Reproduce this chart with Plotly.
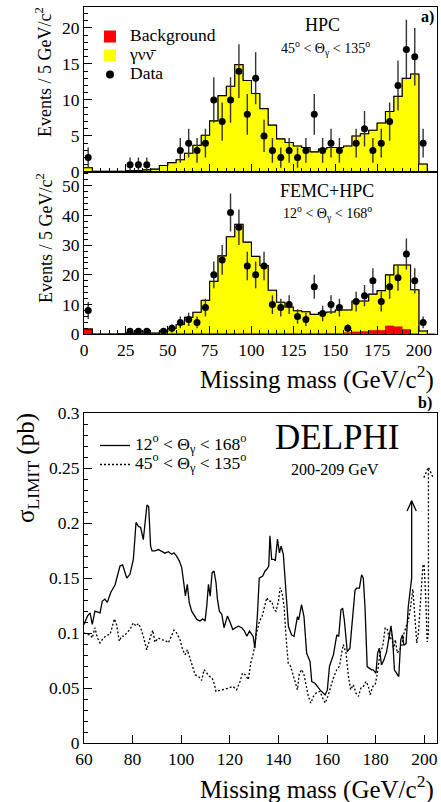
import numpy as np
import plotly.graph_objects as go

# ---------------- data ----------------
bin_edges = list(range(0, 215, 5))            # 0 .. 210 GeV/c^2, 5 GeV bins
bin_centers = [e + 2.5 for e in bin_edges[:-1]]

# Panel a, HPC (45 < theta < 135)
hpc_gvv = [0.6, 0.1, 0.1, 0.1, 0.1, 0.2, 0.2, 0.3, 0.4, 0.9,
           1.3, 1.7, 2.6, 3.7, 5.1, 7.1, 10.6, 11.9, 14.9, 12.7,
           10.9, 8.8, 6.5, 4.6, 4.1, 3.6, 3.4, 2.8, 3.2, 3.4,
           3.4, 3.6, 5.0, 5.3, 5.8, 6.8, 8.4, 10.5, 13.0, 13.6,
           1.1, 0.0]
hpc_bkg = [0.0] * 42
hpc_data = [2, 0, 0, 0, 0, 1, 1, 1, 0, 0,
            0, 3, 4, 3, 4, 10, 7, 10, 14, 8,
            13, 5, 3, 2, 3, 2, 3, 8, 3, 4,
            3, 0, 4, 6, 3, 4, 7, 12, 17, 16,
            4, 0]

# Panel a, FEMC+HPC (12 < theta < 168)
femc_gvv = [0.0, 0.1, 0.1, 0.1, 0.2, 0.4, 0.4, 0.4, 0.4, 0.9,
            1.7, 3.0, 5.4, 7.1, 11.1, 17.5, 26.1, 32.5, 36.7, 30.7,
            25.9, 22.8, 14.5, 10.5, 8.9, 7.6, 7.3, 6.4, 7.0, 7.2,
            7.9, 7.7, 10.4, 10.3, 12.2, 13.4, 17.2, 20.8, 21.7, 14.8,
            1.1, 0.0]
femc_bkg = [1.8, 0.0, 0.0, 0.0, 0.0, 0.0, 0.0, 0.0, 0.0, 0.1,
            0.3, 0.3, 0.3, 0.3, 0.3, 0.3, 0.3, 0.3, 0.3, 0.3,
            0.3, 0.3, 0.3, 0.3, 0.3, 0.3, 0.3, 0.3, 0.3, 0.3,
            0.3, 0.5, 0.8, 0.9, 1.3, 1.3, 2.8, 2.5, 1.6, 0.2,
            0.0, 0.0]
femc_data = [8, 0, 0, 0, 0, 1, 1, 1, 0, 1,
             2, 4, 5, 4, 9, 20, 25, 41, 36, 23,
             20, 23, 10, 9, 10, 6, 5, 16, 7, 10,
             9, 2, 11, 13, 18, 11, 16, 19, 27, 18,
             4, 0]

# Panel b, cross-section limits (pb) vs missing mass
lim12_mass = [60, 61.4, 62.5, 63.4, 64.5, 65.6, 66.6, 67.5, 68.6, 69.6, 71.0, 72.8, 73.7, 74.8,
              75.9, 76.9, 77.6, 78.9, 80.3, 80.7, 81.4, 82.4, 83.3, 84.4, 85.1, 85.9, 86.6,
              87.4, 88.0, 89.2, 90.6, 92.0, 93.3, 94.7, 96.1, 97.0, 98.1, 99.2, 100.2, 101.2,
              101.7, 102.5, 103.3, 104.3, 106.4, 107.7, 108.8, 109.8, 110.5, 111.2, 111.9,
              112.7, 113.5, 114.3, 114.9, 115.7, 116.7, 117.6, 118.4, 119.0, 120.1, 121.2,
              122.3, 123.5, 124.9, 126.0, 127.0, 128.1, 129.0, 129.6, 130.3, 131.3, 132.1,
              133.5, 134.5, 135.2, 136.0, 136.5, 137.2, 138.2, 138.7, 139.6, 140.4, 141.1,
              142.0, 142.7, 143.4, 144.1, 145.4, 146.4, 147.8, 148.3, 149.5, 150.5, 151.6,
              153.0, 153.7, 155.0, 157.1, 159.2, 160.1, 161.0, 162.6, 164.0, 164.8, 165.7,
              166.4, 167.1, 168.3, 169.4, 171.5, 172.2, 173.3, 174.2, 174.9, 175.6, 176.5,
              178.3, 179.0, 180.1, 180.8, 181.5, 182.4, 183.4, 184.5, 185.5, 186.3, 187.0,
              187.7, 188.6, 189.5, 190.3, 191.0, 191.6, 192.5, 193.4, 194.1, 194.8, 194.8]
lim12_pb = [0.108, 0.1155, 0.1185, 0.108, 0.120, 0.119, 0.1185, 0.129, 0.131, 0.128, 0.137,
            0.144, 0.152, 0.161, 0.162, 0.1535, 0.150, 0.1535, 0.167, 0.179, 0.2006, 0.197,
            0.196, 0.185, 0.1976, 0.2164, 0.215, 0.179, 0.1748, 0.1748, 0.176, 0.174, 0.1727,
            0.174, 0.1717, 0.173, 0.170, 0.1657, 0.1596, 0.143, 0.134, 0.1444, 0.1277, 0.120,
            0.1125, 0.111, 0.113, 0.111, 0.1246, 0.1444, 0.1337, 0.155, 0.1565, 0.146, 0.1307,
            0.120, 0.117, 0.105, 0.111, 0.1155, 0.110, 0.1033, 0.105, 0.1064, 0.105, 0.102,
            0.0973, 0.102, 0.099, 0.097, 0.0864, 0.115, 0.150, 0.152, 0.1565, 0.158, 0.161,
            0.1885, 0.167, 0.167, 0.1657, 0.1854, 0.173, 0.179, 0.1717, 0.152, 0.1337, 0.106,
            0.0985, 0.097, 0.115, 0.1121, 0.126, 0.115, 0.0818, 0.0742, 0.0561, 0.0545, 0.0485,
            0.044, 0.0485, 0.070, 0.0803, 0.0985, 0.097, 0.121, 0.1227, 0.112, 0.0833, 0.0864,
            0.139, 0.141, 0.141, 0.153, 0.150, 0.124, 0.0697, 0.0667, 0.0667, 0.0636, 0.082,
            0.0864, 0.0712, 0.0758, 0.0833, 0.0985, 0.1066, 0.094, 0.0667, 0.0636, 0.0606,
            0.094, 0.0985, 0.089, 0.0906, 0.124, 0.139, 0.150, 0.2204]

lim45_mass = [60, 61.4, 62.5, 63.4, 64.5, 65.5, 66.6, 68.0, 69.3, 70.7, 71.7, 72.5, 73.4, 74.5,
              75.5, 76.5, 77.6, 78.9, 80.3, 81.4, 82.4, 83.3, 84.4, 85.8, 87.2, 88.3, 89.2,
              90.6, 92.0, 93.3, 94.7, 96.1, 97.0, 98.1, 99.5, 100.6, 101.6, 102.5, 103.6,
              104.3, 105.7, 107.1, 108.4, 109.4, 110.5, 111.6, 112.7, 113.5, 114.3, 116.0,
              117.6, 119.4, 121.2, 122.8, 124.2, 125.2, 126.3, 127.6, 128.6, 129.7, 131.0,
              132.2, 133.3, 134.5, 135.2, 136.0, 137.2, 138.2, 139.0, 140.0, 140.7, 141.5,
              142.3, 143.1, 144.0, 145.0, 146.1, 147.0, 147.8, 148.6, 149.6, 150.5, 151.4,
              152.3, 153.3, 154.4, 155.7, 157.1, 158.2, 159.2, 160.3, 161.5, 162.6, 164.0,
              165.1, 166.0, 166.7, 167.8, 168.8, 169.7, 170.8, 171.9, 172.9, 173.9, 175.0,
              176.0, 177.0, 177.7, 178.8, 179.8, 180.7, 181.8, 182.9, 183.9, 184.8, 185.7,
              186.6, 187.3, 188.1, 188.9, 189.8, 190.7, 191.7, 192.5, 193.5, 194.4, 195.3,
              195.8, 196.4, 196.9, 197.6, 198.5, 199.4, 199.9, 200.5, 201.2, 201.7, 201.7]
lim45_pb = [0.1003, 0.0988, 0.0988, 0.0957, 0.105, 0.0957, 0.0912, 0.0957, 0.098, 0.0988,
            0.1064, 0.113, 0.108, 0.0927, 0.0973, 0.0973, 0.1003, 0.1033, 0.1094, 0.1064,
            0.1088, 0.105, 0.0973, 0.085, 0.0957, 0.1027, 0.0918, 0.0957, 0.094, 0.0936,
            0.0912, 0.098, 0.1027, 0.1003, 0.094, 0.085, 0.0805, 0.085, 0.0775, 0.073, 0.0623,
            0.0608, 0.0571, 0.0669, 0.0638, 0.0608, 0.0593, 0.0547, 0.0471, 0.048, 0.0492,
            0.0501, 0.0517, 0.0486, 0.0562, 0.0638, 0.0623, 0.0578, 0.073, 0.082, 0.1003,
            0.111, 0.1155, 0.126, 0.1322, 0.129, 0.129, 0.1216, 0.120, 0.129, 0.1413, 0.1368,
            0.1246, 0.0973, 0.073, 0.070, 0.0623, 0.0547, 0.0486, 0.0638, 0.0669, 0.0623,
            0.0517, 0.0426, 0.0365, 0.0426, 0.0462, 0.0471, 0.041, 0.0365, 0.0426, 0.0517,
            0.0593, 0.0669, 0.070, 0.082, 0.0897, 0.082, 0.0608, 0.0486, 0.0532, 0.0456,
            0.0426, 0.0501, 0.0517, 0.0562, 0.0517, 0.0441, 0.0517, 0.0532, 0.0638, 0.082,
            0.088, 0.105, 0.1033, 0.094, 0.0988, 0.085, 0.094, 0.082, 0.085, 0.088, 0.1003,
            0.1064, 0.1125, 0.1246, 0.140, 0.1246, 0.1003, 0.0912, 0.1003, 0.137, 0.161,
            0.1626, 0.137, 0.092, 0.100, 0.2508]

# ---------------- layout geometry ----------------
W, H = 441, 802
FONT = "Liberation Serif"
XDOM = [84 / W, 436.7 / W]
def ydom(top_px, bot_px):
    return [1 - bot_px / H, 1 - top_px / H]

def step_xy(vals):
    xs = list(bin_edges)
    ys = list(vals) + [vals[-1]]
    return xs, ys

fig = go.Figure()

def add_hist_panel(gvv, bkg, data, xa, ya):
    total = [g + b for g, b in zip(gvv, bkg)]
    sx, sy = step_xy(total)
    fig.add_trace(go.Scatter(x=sx, y=sy, mode="lines", line=dict(shape="hv", color="#8a8a10", width=1),
                             fill="tozeroy", fillcolor="#ffff00", showlegend=False,
                             xaxis=xa, yaxis=ya, hoverinfo="skip"))
    bx, by = step_xy(bkg)
    fig.add_trace(go.Scatter(x=bx, y=by, mode="lines", line=dict(shape="hv", color="#cc0000", width=0.6),
                             fill="tozeroy", fillcolor="#ff0000", showlegend=False,
                             xaxis=xa, yaxis=ya, hoverinfo="skip"))
    fig.add_trace(go.Scatter(x=sx, y=sy, mode="lines", line=dict(shape="hv", color="black", width=1.1),
                             showlegend=False, xaxis=xa, yaxis=ya, hoverinfo="skip"))
    dx = [c for c, n in zip(bin_centers, data) if n > 0]
    dy = [n for n in data if n > 0]
    de = [float(np.sqrt(n)) for n in dy]
    fig.add_trace(go.Scatter(x=dx, y=dy, mode="markers",
                             marker=dict(color="black", size=7),
                             error_y=dict(type="data", array=de, visible=True, color="#333333",
                                          thickness=1.4, width=0),
                             showlegend=False, xaxis=xa, yaxis=ya))

add_hist_panel(hpc_gvv, hpc_bkg, hpc_data, "x", "y")
add_hist_panel(femc_gvv, femc_bkg, femc_data, "x2", "y2")

# legend entries for panel a
def lname(t):
    return '<span style="font-size:17.5px">' + t + '</span>'

fig.add_trace(go.Bar(x=[None], y=[None], name=lname("Background"), marker=dict(color="#ff0000", line=dict(width=0)),
                     legend="legend", xaxis="x", yaxis="y"))
fig.add_trace(go.Bar(x=[None], y=[None], name=lname("γνν̄"), marker=dict(color="#ffff00", line=dict(width=0)),
                     legend="legend", xaxis="x", yaxis="y"))
fig.add_trace(go.Scatter(x=[None], y=[None], mode="markers", name=lname("Data"),
                         marker=dict(color="black", size=8), legend="legend", xaxis="x", yaxis="y"))

# panel b curves
fig.add_trace(go.Scatter(x=lim12_mass, y=lim12_pb, mode="lines", line=dict(color="black", width=1.3),
                         name=lname("12<sup>o</sup> &lt; Θ<sub>γ</sub> &lt; 168<sup>o</sup>"),
                         legend="legend2", xaxis="x3", yaxis="y3"))
fig.add_trace(go.Scatter(x=lim45_mass, y=lim45_pb, mode="lines", line=dict(color="black", width=1.3, dash="2px,2px"),
                         name=lname("45<sup>o</sup> &lt; Θ<sub>γ</sub> &lt; 135<sup>o</sup>"),
                         legend="legend2", xaxis="x3", yaxis="y3"))
# arrow heads at the ends of the limit curves
for mx, py, dash in [(lim12_mass, lim12_pb, "solid"), (lim45_mass, lim45_pb, "2px,2px")]:
    tx, ty = mx[-1], py[-1]
    fig.add_trace(go.Scatter(x=[tx - 1.9, tx, tx + 1.9], y=[ty - 0.0095, ty, ty - 0.0095], mode="lines",
                             line=dict(color="black", width=1.3, dash=dash), showlegend=False,
                             xaxis="x3", yaxis="y3", hoverinfo="skip"))

# ---------------- axes ----------------
tickfont = dict(family=FONT, size=17.5, color="black")
common = dict(showline=True, linecolor="black", linewidth=1, mirror=True, showgrid=False,
              zeroline=False, ticks="inside", tickcolor="black", tickfont=tickfont, automargin=False)

fig.update_layout(
    width=W, height=H, autosize=False,
    margin=dict(l=0, r=0, t=0, b=0, pad=0),
    paper_bgcolor="white", plot_bgcolor="white",
    font=dict(family=FONT, color="black"),
    xaxis=dict(domain=XDOM, range=[0, 210.6], anchor="y", tick0=0, dtick=25, ticklen=8,
               minor=dict(dtick=5, ticklen=4, ticks="inside", tickcolor="black"),
               showticklabels=False, **common),
    yaxis=dict(domain=ydom(7, 172), range=[0, 22.9], anchor="x", tick0=0, dtick=5, ticklen=8,
               minor=dict(dtick=1, ticklen=4, ticks="inside", tickcolor="black"), **common),
    xaxis2=dict(domain=XDOM, range=[0, 210.6], anchor="y2", tick0=0, dtick=25, ticklen=8,
                minor=dict(dtick=5, ticklen=4, ticks="inside", tickcolor="black"), **common),
    yaxis2=dict(domain=ydom(172, 334.3), range=[0, 54.6], anchor="x2", tick0=0, dtick=10, ticklen=8,
                minor=dict(dtick=2, ticklen=4, ticks="inside", tickcolor="black"), **common),
    xaxis3=dict(domain=XDOM, range=[60, 205.1], anchor="y3", tick0=60, dtick=20, ticklen=8, **common),
    yaxis3=dict(domain=ydom(413, 743.3), range=[0, 0.3], anchor="x3", tick0=0, dtick=0.05, ticklen=8,
                minor=dict(dtick=0.01, ticklen=4, ticks="inside", tickcolor="black"), **common),
    legend=dict(x=90 / W, y=1 - 22 / H, xanchor="left", yanchor="top", bgcolor="rgba(0,0,0,0)",
                font=dict(family=FONT, size=11, color="black"), tracegroupgap=0),
    legend2=dict(x=95 / W, y=1 - 431 / H, xanchor="left", yanchor="top", bgcolor="rgba(0,0,0,0)",
                 font=dict(family=FONT, size=11, color="black"), tracegroupgap=0),
    barmode="overlay",
)

def ann(text, x_px, y_px, size, xanchor="center", angle=0, bold=False):
    t = "<b>" + text + "</b>" if bold else text
    fig.add_annotation(text=t, x=x_px / W, y=1 - y_px / H, xref="paper", yref="paper",
                       xanchor=xanchor, yanchor="middle", showarrow=False, textangle=angle,
                       font=dict(family=FONT, size=size, color="black"))

ann("HPC", 322, 25, 18)
ann("45<sup>o</sup> &lt; Θ<sub>γ</sub> &lt; 135<sup>o</sup>", 325, 48, 14)
ann("FEMC+HPC", 327, 191, 18)
ann("12<sup>o</sup> &lt; Θ<sub>γ</sub> &lt; 168<sup>o</sup>", 327, 213, 14)
ann("a)", 436, 17, 16, xanchor="right", bold=True)
ann("b)", 434, 403, 16, xanchor="right", bold=True)
ann("DELPHI", 337, 437, 35)
ann("200-209 GeV", 335, 469, 16)
ann("Events / 5 GeV/c<sup>2</sup>", 44, 72, 18, angle=-90)
ann("Events / 5 GeV/c<sup>2</sup>", 44, 238, 18, angle=-90)
ann("σ<sub>LIMIT</sub> (pb)", 28, 468, 25, angle=-90)
ann("Missing mass (GeV/c<sup>2</sup>)", 436, 377, 25, xanchor="right")
ann("Missing mass (GeV/c<sup>2</sup>)", 436, 787, 25, xanchor="right")

fig.write_html("out.html", config={"displayModeBar": False},
               post_script="document.documentElement.style.margin='0';document.body.style.margin='0';"
                           "document.body.style.overflow='hidden';")
